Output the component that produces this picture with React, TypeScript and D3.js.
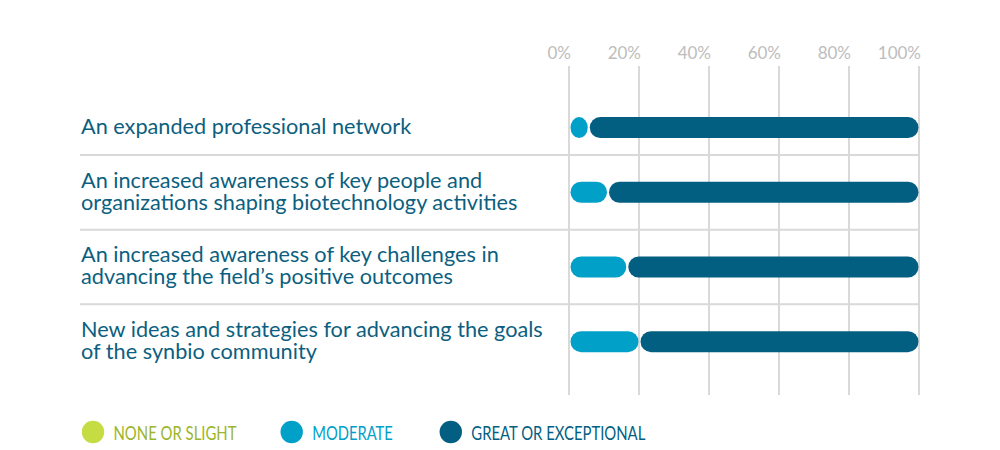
import React, { useEffect, useRef } from 'react';
import * as d3 from 'd3';

// Survey items (label lines) and shares per response level, in percent
const categories = [
  'An expanded professional network',
  'An increased awareness of key people and organizations shaping biotechnology activities',
  'An increased awareness of key challenges in advancing the field\u2019s positive outcomes',
  'New ideas and strategies for advancing the goals of the synbio community',
];
const labelLines = [
  ['An expanded professional network'],
  ['An increased awareness of key people and', 'organizations shaping biotechnology activities'],
  ['An increased awareness of key challenges in', 'advancing the field\u2019s positive outcomes'],
  ['New ideas and strategies for advancing the goals', 'of the synbio community'],
];
const noneOrSlight = [0, 0, 0, 0];
const moderate = [5.5, 11, 16.5, 20];
const greatOrExceptional = [94.5, 89, 83.5, 80];

const seriesNames = ['NONE OR SLIGHT', 'MODERATE', 'GREAT OR EXCEPTIONAL'];
const seriesColors = ['#c5dc43', '#00a0c9', '#035f82'];
const legendTextColors = ['#9cb52c', '#00a0c9', '#035f82'];
const tickValues = [0, 20, 40, 60, 80, 100];

const App: React.FC = () => {
  const svgRef = useRef<SVGSVGElement>(null);

  useEffect(() => {
    document.body.style.margin = '0';
    if (!svgRef.current) return;
    const svg = d3.select(svgRef.current);
    svg.selectAll('*').remove();

    const font = 'Lato, "Noto Sans", sans-serif';
    const x = d3.scaleLinear().domain([0, 100]).range([569, 919]);
    const y = d3.scaleBand<string>().domain(categories).range([80.25, 379]);
    // first row sits a little lower, clear of the axis labels
    const rowCenter = (i: number) => y(categories[i])! + y.bandwidth() / 2 + (i === 0 ? 10 : 0);

    // vertical grid
    svg.append('g')
      .selectAll('line')
      .data(tickValues)
      .join('line')
      .attr('x1', d => x(d))
      .attr('x2', d => x(d))
      .attr('y1', 66)
      .attr('y2', 395)
      .attr('stroke', '#d9d9d9')
      .attr('stroke-width', 2);

    // tick labels
    svg.append('g')
      .selectAll('text')
      .data(tickValues)
      .join('text')
      .attr('x', d => x(d) + 2)
      .attr('y', 59)
      .attr('text-anchor', 'end')
      .attr('font-family', font)
      .attr('font-size', 17)
      .attr('fill', '#bdbdbd')
      .text(d => `${d}%`);

    // row separators
    svg.append('g')
      .selectAll('line')
      .data(categories.slice(1))
      .join('line')
      .attr('x1', 80)
      .attr('x2', x(100))
      .attr('y1', d => y(d)!)
      .attr('y2', d => y(d)!)
      .attr('stroke', '#d9d9d9')
      .attr('stroke-width', 2);

    // row labels
    const labels = svg.append('g')
      .selectAll('text')
      .data(labelLines)
      .join('text')
      .attr('font-family', font)
      .attr('font-size', 21.7)
      .attr('fill', '#0c5f80');
    labels.each(function (lines, i) {
      const n = lines.length;
      d3.select(this)
        .selectAll('tspan')
        .data(lines)
        .join('tspan')
        .attr('x', 81)
        .attr('y', (_, k) => rowCenter(i) + 6.5 + (k - (n - 1) / 2) * 22)
        .text(d => d);
    });

    // stacked pill bars
    const barH = 21;
    const series = [noneOrSlight, moderate, greatOrExceptional];
    categories.forEach((_, i) => {
      let start = 0;
      series.forEach((vals, s) => {
        const v = vals[i];
        if (v > 0) {
          const x0 = x(start) + 1.5;
          const x1 = x(start + v) - 0.5;
          const w = x1 - x0;
          svg.append('rect')
            .attr('x', x0)
            .attr('y', rowCenter(i) - barH / 2)
            .attr('width', w)
            .attr('height', barH)
            .attr('rx', Math.min(w / 2, barH / 2))
            .attr('ry', barH / 2)
            .attr('fill', seriesColors[s]);
        }
        start += v;
      });
    });

    // legend
    const legendX = [93, 291.7, 450.8];
    const legendW = [123, 80.6, 174];
    const legend = svg.append('g')
      .selectAll('g')
      .data(seriesNames)
      .join('g')
      .attr('transform', (_, i) => `translate(${legendX[i]},432)`);
    legend.append('circle')
      .attr('r', 11.2)
      .attr('fill', (_, i) => seriesColors[i]);
    legend.append('text')
      .attr('x', 20.5)
      .attr('y', 8)
      .attr('font-family', font)
      .attr('font-size', 18.5)
      .attr('textLength', (_, i) => legendW[i])
      .attr('lengthAdjust', 'spacingAndGlyphs')
      .attr('fill', (_, i) => legendTextColors[i])
      .text(d => d);
  }, []);

  return <svg ref={svgRef} width={1000} height={450} style={{ display: 'block', background: '#fff' }} />;
};

export default App;
